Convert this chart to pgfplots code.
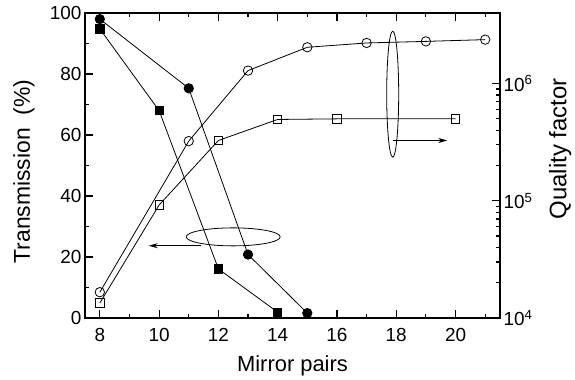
\documentclass[border=0pt]{standalone}
\usepackage{pgfplots}
\pgfplotsset{compat=1.18}
\usepackage{fontspec}
\setmainfont{Liberation Sans}
\usetikzlibrary{arrows.meta}
\begin{document}
\begin{tikzpicture}[font=\fontsize{19}{21}\selectfont]
\pgfplotsset{
  common/.style={
    scale only axis, width=415bp, height=305bp,
    xmin=7.5, xmax=21.5,
    tick align=inside,
    major tick length=8bp, minor tick length=4bp,
    axis line style={line width=1.6bp},
    every tick/.style={black, line width=1.2bp},
    /pgf/number format/assume math mode=true,
    tick label style={font=\fontsize{19}{21}\selectfont},
  }
}
\begin{axis}[common,
  ymin=0, ymax=100,
  xtick={8,10,...,20}, minor xtick={9,11,...,21},
  ytick={0,20,...,100}, minor ytick={10,30,...,90},
  xtick pos=both, ytick pos=left,
  xticklabel style={yshift=-7bp},
  xlabel={Mirror pairs}, ylabel={Transmission\ \ (\%)},
  xlabel style={font=\fontsize{22}{24}\selectfont, at={(axis description cs:0.5,-0.157)}, anchor=center},
  ylabel style={font=\fontsize{23}{25}\selectfont, at={(axis description cs:-0.147,0.48)}, anchor=center},
]
\addplot[black, line width=0.8bp, mark=*, mark size=4.7bp, mark options={fill=black}]
  coordinates {(8,98.0) (11,75.3) (13,20.8) (15,1.6)};
\addplot[black, line width=0.8bp, mark=square*, mark size=4.2bp, mark options={fill=black}]
  coordinates {(8,94.8) (10,68.0) (12,16.1) (14,1.9)};
\draw[line width=0.8bp] (axis cs:12.5,26.6) ellipse [x radius=47bp, y radius=9bp];
\draw[line width=0.8bp, -{Stealth[length=9bp,width=5bp]}] (axis cs:11.43,23.7) -- (axis cs:9.65,23.7);
\draw[line width=0.8bp] (axis cs:17.88,73.4) ellipse [x radius=6bp, y radius=63bp];
\draw[line width=0.8bp, -{Stealth[length=9bp,width=5bp]}] (axis cs:17.88,58.2) -- (axis cs:19.72,58.2);
\end{axis}
\begin{axis}[common,
  ymode=log, ymin=1e4, ymax=4e6,
  axis x line=none, axis y line*=right,
  ytick={1e4,1e5,1e6},
  yticklabels={10\textsuperscript{4},10\textsuperscript{5},10\textsuperscript{6}},
  ylabel={Quality factor},
  ylabel style={font=\fontsize{24}{26}\selectfont, at={(axis description cs:1.145,0.554)}, anchor=center},
]
\addplot[black, line width=0.8bp, mark=o, mark size=4.7bp, mark options={fill=white}]
  coordinates {(8,1.66e4) (11,3.23e5) (13,1.29e6) (15,2.04e6) (17,2.22e6) (19,2.29e6) (21,2.37e6)};
\addplot[black, line width=0.8bp, mark=square, mark size=4.2bp, mark options={fill=white}]
  coordinates {(8,1.34e4) (10,9.2e4) (12,3.27e5) (14,4.94e5) (16,5e5) (20,5e5)};
\end{axis}
\pgfresetboundingbox
\path[use as bounding box] (-85bp,-62bp) rectangle (490bp,318bp);
\end{tikzpicture}
\end{document}
